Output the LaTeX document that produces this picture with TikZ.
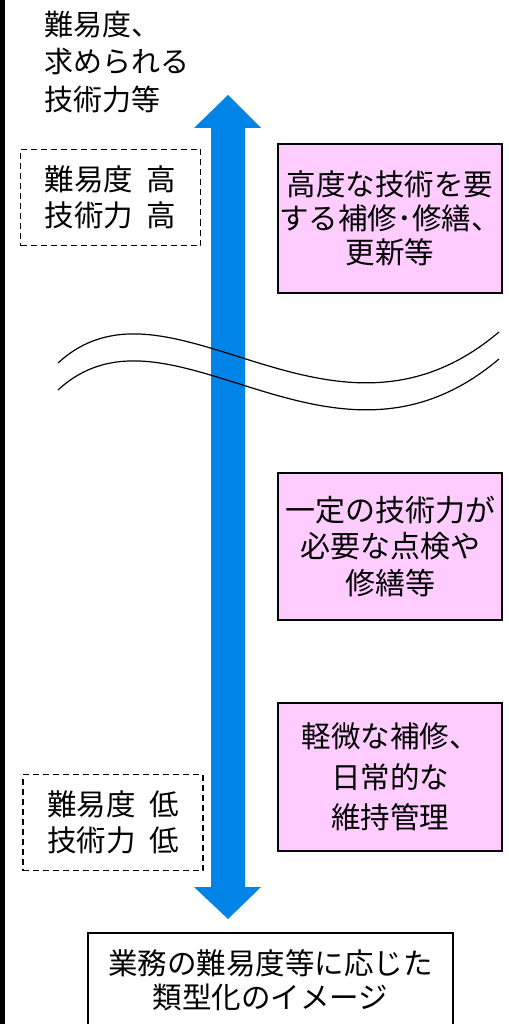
\documentclass[tikz,border=0pt]{standalone}
\usepackage{fontspec}
\setmainfont{Noto Sans CJK JP}
\definecolor{arrowblue}{RGB}{0,132,232}
\definecolor{pinkfill}{RGB}{255,204,255}
\newcommand{\gap}{\hspace{0.45em}}
\tikzset{
  pinkbox/.style={draw=black, line width=1.3pt, fill=pinkfill, minimum width=224pt, minimum height=148pt, align=center, inner sep=0pt},
  dashbox/.style={draw=black, line width=1.2pt, dash pattern=on 6pt off 4pt, minimum width=180pt, minimum height=96pt, align=center, inner sep=0pt},
  txt/.style={inner sep=0pt, font=\fontsize{29}{36}\selectfont},
  wave/.style={line width=1.2pt, black}
}
\begin{document}
\begin{tikzpicture}[x=1pt,y=-1pt]
\clip (0,0) rectangle (508,1024);
\fill[white] (0,0) rectangle (508,1024);
\draw[line width=4.5pt] (2.5,-5) -- (2.5,1030);
% double arrow
\fill[arrowblue] (228,95) -- (261,128) -- (245,128) -- (245,887) -- (261,887) -- (228,919) -- (194,887) -- (211,887) -- (211,128) -- (194,128) -- cycle;
% wave lines
\draw[wave] (58,363) .. controls (170,260) and (330,475) .. (499,332);
\draw[wave] (58,390) .. controls (170,287) and (330,502) .. (499,359);
% top-left title
\node[txt, anchor=west, align=left, font=\fontsize{29}{37.5}\selectfont] (title) at (44,62) {難易度、\\求められる\\技術力等};
% dashed boxes
\node[dashbox, font=\fontsize{29.5}{36}\selectfont] (high) at (110.5,197.5) {難易度\gap 高\\技術力\gap 高};
\node[dashbox, font=\fontsize{29.5}{36}\selectfont] (low) at (113,822.5) {難易度\gap 低\\技術力\gap 低};
% pink boxes
\node[pinkbox, minimum height=149pt, font=\fontsize{29.5}{34}\selectfont] (b1) at (390,218.5) {高度な技術を要\\する補修･修繕、\\更新等};
\node[pinkbox, minimum height=147pt, font=\fontsize{30}{36.5}\selectfont] (b2) at (390,546.5) {一定の技術力が\\必要な点検や\\修繕等};
\node[pinkbox, font=\fontsize{29.5}{40.5}\selectfont] (b3) at (390,777) {軽微な補修、\\日常的な\\維持管理};
% bottom box
\draw[line width=1.3pt] (88,933) rectangle (453,1045);
\node[txt, align=center, font=\fontsize{29.5}{34}\selectfont] (caption) at (270.5,980) {業務の難易度等に応じた\\類型化のイメージ};
\end{tikzpicture}
\end{document}
